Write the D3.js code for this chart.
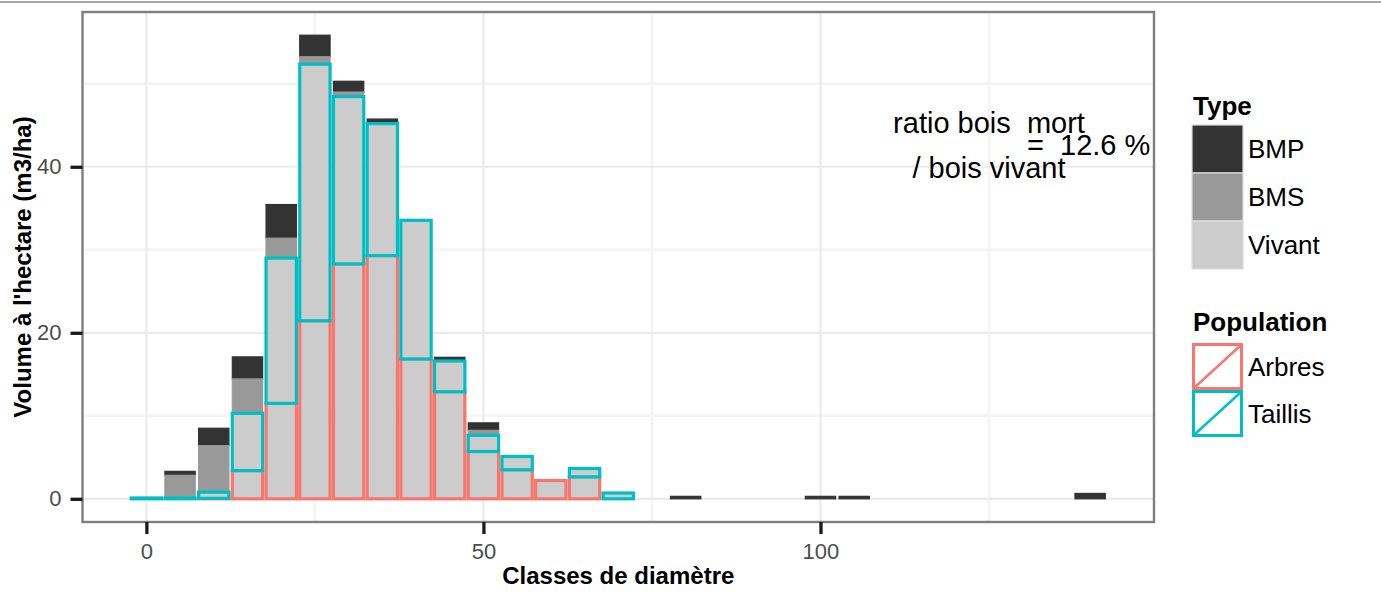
<!DOCTYPE html>
<html>
<head>
<meta charset="utf-8">
<script src="https://cdn.jsdelivr.net/npm/d3@7"></script>
<style>
  body { margin: 0; background: #ffffff; }
  svg { display: block; }
  text { font-family: "Liberation Sans", Arial, Helvetica, sans-serif; }
</style>
</head>
<body>
<svg id="chart" width="1381" height="592"></svg>
<script>
// Diameter classes (cm) and volumes per hectare (m3/ha) by component
const diameters     = [0, 5, 10, 15, 20, 25, 30, 35, 40, 45, 50, 55, 60, 65, 70, 80, 100, 105, 140];
const arbresVivant  = [0, 0, 0.05, 3.4, 11.5, 21.45, 28.3, 29.3, 16.85, 12.9, 5.7, 3.5, 2.2, 2.65, 0, 0, 0, 0, 0];
const taillisVivant = [0.1, 0.1, 0.75, 6.9, 17.5, 30.9, 20.15, 15.9, 16.7, 3.7, 1.95, 1.6, 0, 1.0, 0.7, 0, 0, 0, 0];
const boisMortSol   = [0, 2.73, 5.6, 4.14, 2.4, 0.9, 0.55, 0, 0, 0, 0.6, 0, 0, 0, 0, 0, 0, 0, 0];
const boisMortPied  = [0, 0.48, 2.1, 2.66, 4.05, 2.6, 1.3, 0.55, 0, 0.45, 0.9, 0, 0, 0, 0, 0.3, 0.3, 0.3, 0.65];

const xBreaks = [0, 50, 100];
const xMinorBreaks = [25, 75, 125];
const yBreaks = [0, 20, 40];
const yMinorBreaks = [10, 30, 50];

const typeLevels = ["BMP", "BMS", "Vivant"];
const typeColors = ["#333333", "#999999", "#cccccc"];
const popLevels = ["Arbres", "Taillis"];
const popColors = ["#F8766D", "#00BFC4"];

const ratioLines = ["ratio bois  mort", "/ bois vivant"];
const ratioValue = "=  12.6 %";

const classWidth = 5;
const barWidth = 0.9 * classWidth;

// Rows for the stack layout
const rows = diameters.map((d, i) => ({
  diam: d,
  arbres: arbresVivant[i],
  taillis: taillisVivant[i],
  bms: boisMortSol[i],
  bmp: boisMortPied[i]
}));
const stackKeys = ["arbres", "taillis", "bms", "bmp"];
const series = d3.stack().keys(stackKeys)(rows);
const byKey = {};
series.forEach(s => byKey[s.key] = s);

const panel = { left: 82.5, right: 1154, top: 12, bottom: 522 };

// Scales with 5% expansion on each side
const xLo = d3.min(diameters) - barWidth / 2, xHi = d3.max(diameters) + barWidth / 2;
const xPad = (xHi - xLo) * 0.05;
const x = d3.scaleLinear().domain([xLo - xPad, xHi + xPad]).range([panel.left, panel.right]);

const yMax = d3.max(series[series.length - 1], d => d[1]);
const yPad = yMax * 0.05;
const y = d3.scaleLinear().domain([-yPad, yMax + yPad]).range([panel.bottom, panel.top]);

const svg = d3.select("#chart");

// thin separator line across the top
svg.append("line")
  .attr("x1", 0).attr("x2", 1381).attr("y1", 2).attr("y2", 2)
  .attr("stroke", "#a8a8a8").attr("stroke-width", 2);

// panel background
svg.append("rect")
  .attr("x", panel.left).attr("y", panel.top)
  .attr("width", panel.right - panel.left).attr("height", panel.bottom - panel.top)
  .attr("fill", "#ffffff");

const grid = svg.append("g");
grid.selectAll("line.xminor").data(xMinorBreaks).join("line")
  .attr("x1", d => x(d)).attr("x2", d => x(d))
  .attr("y1", panel.top).attr("y2", panel.bottom)
  .attr("stroke", "#f5f5f5").attr("stroke-width", 3);
grid.selectAll("line.yminor").data(yMinorBreaks).join("line")
  .attr("x1", panel.left).attr("x2", panel.right)
  .attr("y1", d => y(d)).attr("y2", d => y(d))
  .attr("stroke", "#f5f5f5").attr("stroke-width", 3);
grid.selectAll("line.xmajor").data(xBreaks).join("line")
  .attr("x1", d => x(d)).attr("x2", d => x(d))
  .attr("y1", panel.top).attr("y2", panel.bottom)
  .attr("stroke", "#ebebeb").attr("stroke-width", 2.2);
grid.selectAll("line.ymajor").data(yBreaks).join("line")
  .attr("x1", panel.left).attr("x2", panel.right)
  .attr("y1", d => y(d)).attr("y2", d => y(d))
  .attr("stroke", "#ebebeb").attr("stroke-width", 2.2);

const bars = svg.append("g");
const bw = x(barWidth) - x(0);

// dead wood segments (no population outline)
[["bmp", typeColors[0]], ["bms", typeColors[1]]].forEach(([key, col]) => {
  bars.append("g").selectAll("rect")
    .data(byKey[key].filter(d => d[1] - d[0] > 0))
    .join("rect")
    .attr("x", d => x(d.data.diam) - bw / 2)
    .attr("width", bw)
    .attr("y", d => y(d[1]))
    .attr("height", d => y(d[0]) - y(d[1]))
    .attr("fill", col)
    .attr("stroke", col)
    .attr("stroke-width", 1.2);
});

// living wood segments, outlined by population
[["arbres", popColors[0]], ["taillis", popColors[1]]].forEach(([key, col]) => {
  bars.append("g").selectAll("rect")
    .data(byKey[key].filter(d => d[1] - d[0] > 0))
    .join("rect")
    .attr("x", d => x(d.data.diam) - bw / 2)
    .attr("width", bw)
    .attr("y", d => y(d[1]))
    .attr("height", d => Math.max(0, y(d[0]) - y(d[1])))
    .attr("fill", typeColors[2])
    .attr("stroke", col)
    .attr("stroke-width", 3.2);
});

// ratio annotation
const ann = svg.append("g").attr("font-size", 29).attr("fill", "#000");
ann.append("text").attr("x", 989).attr("y", 133).attr("text-anchor", "middle")
  .style("white-space", "pre").text(ratioLines[0]);
ann.append("text").attr("x", 989).attr("y", 178).attr("text-anchor", "middle")
  .style("white-space", "pre").text(ratioLines[1]);
ann.append("text").attr("x", 1027).attr("y", 155)
  .style("white-space", "pre").text(ratioValue);

// panel border
svg.append("rect")
  .attr("x", panel.left).attr("y", panel.top)
  .attr("width", panel.right - panel.left).attr("height", panel.bottom - panel.top)
  .attr("fill", "none").attr("stroke", "#7f7f7f").attr("stroke-width", 2.4);

// axes
const xAxis = svg.append("g").attr("transform", `translate(0,${panel.bottom})`)
  .call(d3.axisBottom(x).tickValues(xBreaks).tickSize(12).tickPadding(9).tickFormat(d3.format("d")));
const yAxis = svg.append("g").attr("transform", `translate(${panel.left},0)`)
  .call(d3.axisLeft(y).tickValues(yBreaks).tickSize(12).tickPadding(9).tickFormat(d3.format("d")));
[xAxis, yAxis].forEach(a => {
  a.select(".domain").remove();
  a.selectAll(".tick line").attr("stroke", "#1a1a1a").attr("stroke-width", 3.3);
  a.selectAll(".tick text").attr("fill", "#4d4d4d").attr("font-size", 22)
    .attr("font-family", "Liberation Sans, Arial, sans-serif");
});

// axis titles
svg.append("text").attr("x", (panel.left + panel.right) / 2).attr("y", 584)
  .attr("text-anchor", "middle").attr("font-size", 24).attr("font-weight", "bold")
  .text("Classes de diamètre");
svg.append("text")
  .attr("transform", `translate(31,${(panel.top + panel.bottom) / 2}) rotate(-90)`)
  .attr("text-anchor", "middle").attr("font-size", 24).attr("font-weight", "bold")
  .text("Volume à l'hectare (m3/ha)");

// legends
const legend = svg.append("g").attr("transform", "translate(1192,0)");
const keyW = 51, keyH = 48;

legend.append("text").attr("x", 1).attr("y", 115)
  .attr("font-size", 26).attr("font-weight", "bold").text("Type");
typeLevels.forEach((lv, i) => {
  const ky = 125 + i * keyH;
  legend.append("rect").attr("x", 0).attr("y", ky).attr("width", keyW).attr("height", keyH)
    .attr("fill", typeColors[i]).attr("stroke", "#dddddd").attr("stroke-width", 1.2);
  legend.append("text").attr("x", keyW + 5).attr("y", ky + keyH / 2)
    .attr("dominant-baseline", "central").attr("font-size", 26).text(lv);
});

legend.append("text").attr("x", 1).attr("y", 331)
  .attr("font-size", 26).attr("font-weight", "bold").text("Population");
popLevels.forEach((lv, i) => {
  const ky = 343 + i * 47;
  legend.append("rect").attr("x", 1.5).attr("y", ky + 1.5).attr("width", keyW - 3).attr("height", 47 - 3)
    .attr("fill", "#ffffff").attr("stroke", popColors[i]).attr("stroke-width", 3);
  legend.append("line").attr("x1", 2).attr("y1", ky + 47 - 2).attr("x2", keyW - 2).attr("y2", ky + 2)
    .attr("stroke", popColors[i]).attr("stroke-width", 2.4);
  legend.append("text").attr("x", keyW + 5).attr("y", ky + 47 / 2)
    .attr("dominant-baseline", "central").attr("font-size", 26).text(lv);
});
</script>
</body>
</html>
